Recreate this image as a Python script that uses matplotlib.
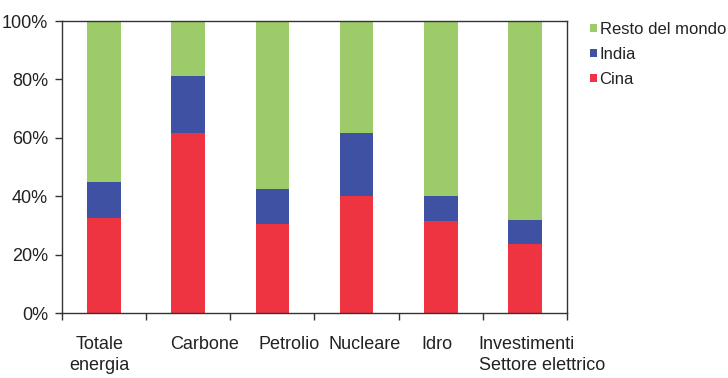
import matplotlib
matplotlib.use("Agg")
import matplotlib.pyplot as plt
import numpy as np
from matplotlib.ticker import FuncFormatter, FixedLocator

plt.rcParams['font.family'] = ['Liberation Sans', 'DejaVu Sans']

categories = ["Totale\nenergia", "Carbone", "Petrolio", "Nucleare", "Idro",
              "Investimenti\nSettore elettrico"]
cina = [32.5, 61.8, 30.4, 39.9, 31.6, 23.8]
india = [12.5, 19.5, 12.2, 21.9, 8.3, 8.1]
resto = [100 - c - i for c, i in zip(cina, india)]

series_names = ["Cina", "India", "Resto del mondo"]
colors = ["#ee3440", "#3f51a3", "#9dcb6a"]

# horizontal nudges of the category captions (in category units) and their alignment
label_shift = [-0.05, 0.19, 0.2, 0.1, -0.05, 0.2]
label_align = ["center", "center", "center", "center", "center", "left"]

fig = plt.figure(figsize=(7.28, 3.78), dpi=100)
ax = fig.add_axes([62 / 728, 1 - 313 / 378, (567 - 62) / 728, (313 - 21) / 378])

x = np.arange(len(categories))
bottom = np.zeros(len(categories))
handles = []
for vals, name, col in zip([cina, india, resto], series_names, colors):
    b = ax.bar(x, vals, width=0.4, bottom=bottom, color=col, label=name,
               edgecolor="none")
    handles.append(b)
    bottom += np.array(vals)

ax.set_xlim(-0.5, len(categories) - 0.5)
ax.set_ylim(0, 100)
ax.set_yticks(np.arange(0, 101, 20))
ax.yaxis.set_major_formatter(FuncFormatter(lambda v, p: f"{int(v)}%"))
ax.xaxis.set_major_locator(FixedLocator(np.arange(-0.5, len(categories), 1.0)))
ax.set_xticklabels([])
ax.tick_params(axis="both", direction="out", length=5, width=1, color="#333333",
               labelsize=13, labelcolor="#222222")
ax.tick_params(axis="y", pad=5)
for s in ax.spines.values():
    s.set_color("#333333")
    s.set_linewidth(1)

trans = ax.get_xaxis_transform()
for i, (lab, dx, al) in enumerate(zip(categories, label_shift, label_align)):
    ax.text(i + dx, -0.08, lab, transform=trans, ha="center", va="top",
            fontsize=13, color="#222222", multialignment=al,
            linespacing=1.3)

fig.legend(handles[::-1], series_names[::-1], loc="upper left",
           bbox_to_anchor=(590 / 728, 1 - 22 / 378), frameon=False,
           fontsize=12, handlelength=0.42, handleheight=0.42,
           handletextpad=0.15, labelspacing=0.6, borderpad=0, borderaxespad=0,
           labelcolor="#222222")

fig.savefig("out.png", dpi=100)
